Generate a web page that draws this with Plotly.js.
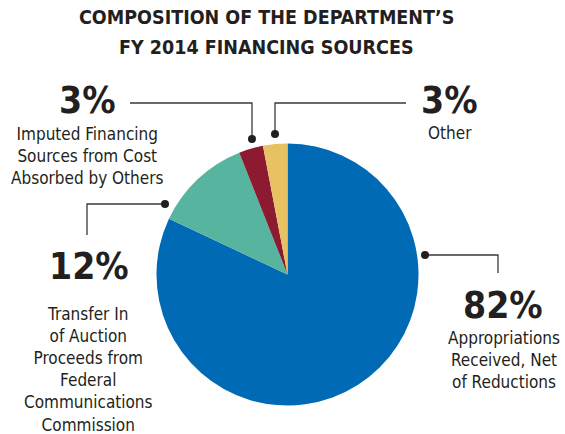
<!DOCTYPE html>
<html>
<head>
<meta charset="utf-8">
<script src="https://cdn.plot.ly/plotly-3.0.1.min.js"></script>
<style>html,body{margin:0;padding:0;background:#fff;}#chart{width:565px;height:434px;}</style>
</head>
<body>
<div id="chart"></div>
<script>
// ---- data ----
const categories = [
  "Appropriations Received, Net of Reductions",
  "Transfer In of Auction Proceeds from Federal Communications Commission",
  "Imputed Financing Sources from Cost Absorbed by Others",
  "Other"
];
const shares = [82, 12, 3, 3];
const shareLabels = ["82%", "12%", "3%", "3%"];
const labelLines = [
  "Appropriations<br>Received, Net<br>of Reductions",
  "Transfer In<br>of Auction<br>Proceeds from<br>Federal<br>Communications<br>Commission",
  "Imputed Financing<br>Sources from Cost<br>Absorbed by Others",
  "Other"
];
const titleLines = ["COMPOSITION OF THE DEPARTMENT’S", "FY 2014 FINANCING SOURCES"];
const sliceColors = ["#006ab4", "#57b49e", "#8c1b32", "#e8c262"];

// ---- layout helpers (pixel -> paper) ----
const W = 565, H = 434;
const px = x => x / W;
const py = y => 1 - y / H;
const ink = "#231f20";
const NARROW = "'DejaVu Sans Condensed', 'Liberation Sans Narrow', Arial, sans-serif";

const trace = {
  type: "pie",
  labels: categories,
  values: shares,
  sort: false,
  direction: "clockwise",
  rotation: 0,
  textinfo: "none",
  hoverinfo: "label+percent",
  marker: {colors: sliceColors, line: {width: 0}},
  domain: {x: [px(156.5), px(418.5)], y: [py(405.5), py(143.5)]},
  showlegend: false
};

// label anchors
const pos = [
  {px: 503, py: 305, tx: 504, ty: 326},
  {px: 88.5, py: 266, tx: 88, ty: 302},
  {px: 87.5, py: 100, tx: 87, ty: 122},
  {px: 449.5, py: 100, tx: 449.5, ty: 121}
];

const annotations = [];
pos.forEach((p, i) => {
  annotations.push({
    xref: "paper", yref: "paper", x: px(p.px), y: py(p.py),
    text: "<b>" + shareLabels[i] + "</b>", showarrow: false,
    xanchor: "center", yanchor: "middle",
    font: {family: NARROW, size: 37, color: ink}
  });
  annotations.push({
    xref: "paper", yref: "paper", x: px(p.tx), y: py(p.ty),
    text: labelLines[i], showarrow: false,
    xanchor: "center", yanchor: "top", align: "center",
    font: {family: NARROW, size: 17, color: ink}
  });
});
[17.5, 47.5].forEach((y, i) => {
  annotations.push({
    xref: "paper", yref: "paper", x: px(266), y: py(y),
    text: "<b>" + titleLines[i] + "</b>",
    showarrow: false, xanchor: "center", yanchor: "middle",
    font: {family: NARROW, size: 19.5, color: ink}
  });
});

const lineStyle = {color: "#3a3a3a", width: 1.3};
function path(pts) {
  return {type: "path", xref: "paper", yref: "paper",
    path: "M " + pts.map(p => px(p[0]) + "," + py(p[1])).join(" L "),
    line: lineStyle};
}
function dot(x, y) {
  const r = 4;
  return {type: "circle", xref: "paper", yref: "paper",
    x0: px(x - r), x1: px(x + r), y0: py(y + r), y1: py(y - r),
    fillcolor: ink, line: {width: 0}};
}
const shapes = [
  path([[130, 103], [252, 103], [252, 139]]), dot(252, 139),
  path([[406, 103], [275, 103], [275, 134]]), dot(275, 134),
  path([[165, 204], [87, 204], [87, 235]]), dot(165, 204),
  path([[425, 255], [498, 255], [498, 273]]), dot(425, 255)
];

Plotly.newPlot("chart", [trace], {
  width: W, height: H,
  margin: {l: 0, r: 0, t: 0, b: 0},
  paper_bgcolor: "#fff",
  annotations: annotations,
  shapes: shapes
}, {displayModeBar: false, staticPlot: true});
</script>
</body>
</html>
